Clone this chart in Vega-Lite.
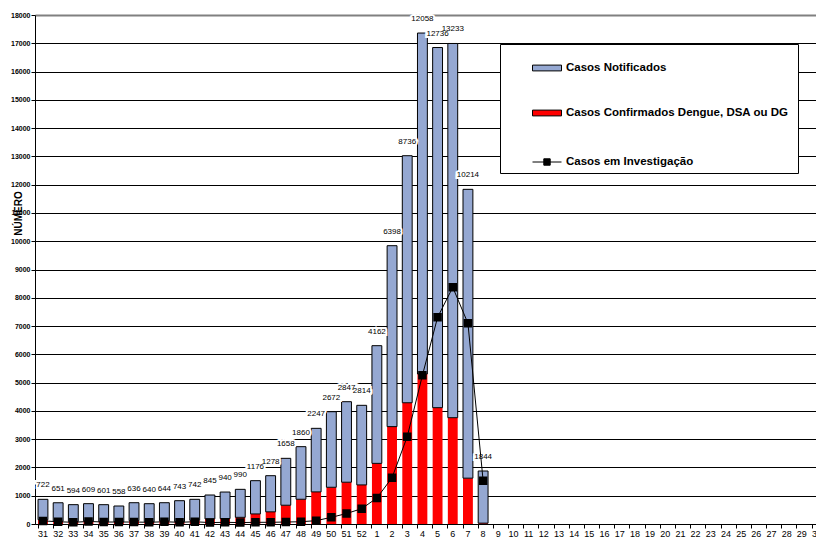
{
  "$schema": "https://vega.github.io/schema/vega-lite/v6.json",
  "autosize": {"type": "none"},
  "padding": {"left": 35, "top": 15, "right": 0, "bottom": 14},
  "width": 781,
  "height": 509,
  "background": "white",
  "config": {
    "view": {"stroke": null},
    "font": "Liberation Sans"
  },
  "data": {
    "values": [
      {"semana": "31", "confirmados": 150, "notificados": 722, "investigacao": 110},
      {"semana": "32", "confirmados": 100, "notificados": 651, "investigacao": 80},
      {"semana": "33", "confirmados": 90, "notificados": 594, "investigacao": 60},
      {"semana": "34", "confirmados": 110, "notificados": 609, "investigacao": 90},
      {"semana": "35", "confirmados": 82, "notificados": 601, "investigacao": 70},
      {"semana": "36", "confirmados": 78, "notificados": 558, "investigacao": 70},
      {"semana": "37", "confirmados": 117, "notificados": 636, "investigacao": 70},
      {"semana": "38", "confirmados": 78, "notificados": 640, "investigacao": 60},
      {"semana": "39", "confirmados": 109, "notificados": 644, "investigacao": 80},
      {"semana": "40", "confirmados": 81, "notificados": 743, "investigacao": 60},
      {"semana": "41", "confirmados": 131, "notificados": 742, "investigacao": 80},
      {"semana": "42", "confirmados": 180, "notificados": 845, "investigacao": 50},
      {"semana": "43", "confirmados": 190, "notificados": 940, "investigacao": 60},
      {"semana": "44", "confirmados": 236, "notificados": 990, "investigacao": 50},
      {"semana": "45", "confirmados": 356, "notificados": 1176, "investigacao": 60},
      {"semana": "46", "confirmados": 430, "notificados": 1278, "investigacao": 60},
      {"semana": "47", "confirmados": 664, "notificados": 1658, "investigacao": 70},
      {"semana": "48", "confirmados": 875, "notificados": 1860, "investigacao": 80},
      {"semana": "49", "confirmados": 1136, "notificados": 2247, "investigacao": 118},
      {"semana": "50", "confirmados": 1299, "notificados": 2672, "investigacao": 236},
      {"semana": "51", "confirmados": 1478, "notificados": 2847, "investigacao": 370},
      {"semana": "52", "confirmados": 1383, "notificados": 2814, "investigacao": 542},
      {"semana": "1", "confirmados": 2144, "notificados": 4162, "investigacao": 919},
      {"semana": "2", "confirmados": 3444, "notificados": 6398, "investigacao": 1638},
      {"semana": "3", "confirmados": 4288, "notificados": 8736, "investigacao": 3088},
      {"semana": "4", "confirmados": 5304, "notificados": 12058, "investigacao": 5257},
      {"semana": "5", "confirmados": 4114, "notificados": 12736, "investigacao": 7308},
      {"semana": "6", "confirmados": 3760, "notificados": 13233, "investigacao": 8369},
      {"semana": "7", "confirmados": 1621, "notificados": 10214, "investigacao": 7096},
      {"semana": "8", "confirmados": 30, "notificados": 1844, "investigacao": 1532}
    ]
  },
  "encoding": {
    "x": {
      "field": "semana",
      "type": "ordinal",
      "sort": null,
      "scale": {
        "domain": ["31","32","33","34","35","36","37","38","39","40","41","42","43","44","45","46","47","48","49","50","51","52","1","2","3","4","5","6","7","8","9","10","11","12","13","14","15","16","17","18","19","20","21","22","23","24","25","26","27","28","29","30"],
        "range": [0, 790],
        "paddingInner": 0.35,
        "paddingOuter": 0.2
      },
      "axis": {
        "title": null,
        "labelAngle": 0,
        "labelFontSize": 9,
        "labelColor": "black",
        "labelPadding": 1,
        "labelOverlap": false,
        "domainColor": "black",
        "tickColor": "black",
        "tickSize": 4,
        "bandPosition": 0,
        "grid": false
      }
    }
  },
  "layer": [
    {
      "transform": [{"fold": ["confirmados", "notificados"], "as": ["serie", "casos"]}],
      "mark": {"type": "bar", "stroke": "black"},
      "encoding": {
        "y": {
          "field": "casos",
          "type": "quantitative",
          "stack": "zero",
          "scale": {"domain": [0, 18000], "nice": false},
          "axis": {
            "title": "NÚMERO",
            "titleFontSize": 10,
            "titleFontWeight": "bold",
            "titleColor": "black",
            "titleX": -17,
            "titleY": 198,
            "titleBaseline": "middle",
            "values": [0,1000,2000,3000,4000,5000,6000,7000,8000,9000,10000,11000,12000,13000,14000,15000,16000,17000,18000],
            "tickCount": 40,
            "format": "d",
            "labelOverlap": false,
            "labelFontSize": 7,
            "labelFontWeight": "bold",
            "labelColor": "black",
            "labelPadding": 1,
            "tickSize": 4,
            "tickColor": "black",
            "domainColor": "black",
            "grid": true,
            "gridColor": {"condition": {"test": "datum.value === 18000", "value": "#808080"}, "value": "black"},
            "gridWidth": {"condition": {"test": "datum.value === 18000", "value": 2}, "value": 1},
            "gridOpacity": 1
          }
        },
        "color": {
          "field": "serie",
          "type": "nominal",
          "scale": {
            "domain": ["notificados", "confirmados", "investigacao"],
            "range": ["#95A8D2", "#FF0000", "#000000"]
          },
          "legend": {
            "orient": "none",
            "legendX": 465,
            "legendY": 29,
            "direction": "vertical",
            "title": null,
            "fillColor": "white",
            "strokeColor": "black",
            "padding": 9,
            "symbolOffset": 23,
            "symbolSize": 841,
            "symbolType": "M-1,-0.2H1V0.2H-1Z",
            "symbolStrokeColor": "black",
            "symbolStrokeWidth": 1,
            "rowPadding": 24,
            "labelFontSize": 11.5,
            "labelFontWeight": "bold",
            "labelColor": "black",
            "labelOffset": 4,
            "labelLimit": 400,
            "labelExpr": "datum.value === 'notificados' ? 'Casos Notificados' : datum.value === 'confirmados' ? 'Casos Confirmados Dengue, DSA ou DG' : ''"
          }
        },
        "order": {"field": "serie", "sort": "ascending"},
        "strokeWidth": {"condition": {"test": "datum.serie === 'notificados'", "value": 1}, "value": 0}
      }
    },
    {
      "transform": [{"fold": ["confirmados", "notificados"], "as": ["serie", "casos"]}],
      "mark": {"type": "text", "fontSize": 8, "dy": -14, "stroke": "white", "strokeWidth": 4, "fill": "white"},
      "encoding": {
        "y": {"field": "casos", "type": "quantitative", "stack": "zero"},
        "detail": {"field": "serie"},
        "order": {"field": "serie", "sort": "ascending"},
        "text": {"condition": {"test": "datum.serie === 'notificados'", "field": "casos", "type": "quantitative", "format": "d"}, "value": ""}
      }
    },
    {
      "transform": [{"fold": ["confirmados", "notificados"], "as": ["serie", "casos"]}],
      "mark": {"type": "text", "fontSize": 8, "dy": -14, "color": "black"},
      "encoding": {
        "y": {"field": "casos", "type": "quantitative", "stack": "zero"},
        "detail": {"field": "serie"},
        "order": {"field": "serie", "sort": "ascending"},
        "text": {"condition": {"test": "datum.serie === 'notificados'", "field": "casos", "type": "quantitative", "format": "d"}, "value": ""}
      }
    },
    {
      "mark": {"type": "line", "strokeWidth": 1, "point": {"shape": "square", "filled": true, "size": 42, "color": "black", "opacity": 1}},
      "encoding": {
        "y": {"field": "investigacao", "type": "quantitative"},
        "stroke": {
          "datum": "investigacao",
          "scale": {"domain": ["investigacao"], "range": ["#000000"]},
          "legend": {
            "orient": "none",
            "legendX": 495,
            "legendY": 130,
            "title": null,
            "fillColor": "white",
            "strokeColor": null,
            "padding": 2,
            "symbolOffset": 0,
            "symbolSize": 841,
            "symbolType": "M-1,0H1M-0.22,-0.22H0.22V0.22H-0.22Z",
            "symbolFillColor": "black",
            "symbolStrokeColor": "black",
            "symbolStrokeWidth": 1,
            "labelFontSize": 11.5,
            "labelFontWeight": "bold",
            "labelColor": "black",
            "labelOffset": 4,
            "labelLimit": 400,
            "labelExpr": "'Casos em Investigação'"
          }
        }
      }
    }
  ]
}
